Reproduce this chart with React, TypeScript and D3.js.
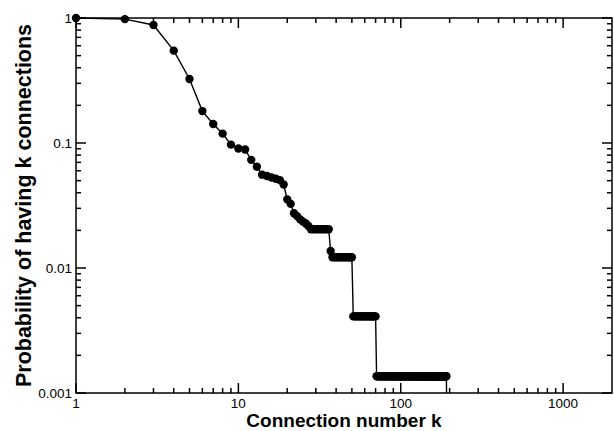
import React from "react";
import * as d3 from "d3";

// ---- data ----
const headK = [1, 2, 3, 4, 5, 6, 7, 8, 9, 10, 11, 12, 13, 14, 15, 16, 17, 18, 19, 20, 21, 22, 23, 24, 25, 26, 27, 37];
const headP = [1.0, 0.98, 0.879, 0.548, 0.325, 0.18, 0.142, 0.1188, 0.097, 0.0904, 0.0886, 0.0733, 0.0645, 0.0558, 0.0544, 0.053, 0.0518, 0.0505, 0.0465, 0.0354, 0.0326, 0.0274, 0.026, 0.0245, 0.0235, 0.0227, 0.0217, 0.0137];
// plateaus of the cumulative distribution (constant value over a run of k)
const plateauStart = [28, 38, 51, 71];
const plateauEnd = [36, 50, 70, 191];
const plateauP = [0.0204, 0.0122, 0.0041, 0.00136];
const dropK = 192; // last segment falls to zero (below the axis)

const xTickValues = [1, 10, 100, 1000];
const xTickLabels = ["1", "10", "100", "1000"];
const yTickValues = [1, 0.1, 0.01, 0.001];
const yTickLabels = ["1", "0.1", "0.01", "0.001"];

const xTitle = "Connection number k";
const yTitle = "Probability of having k connections";

const W = 614;
const H = 431;
const L = 76, R = 612, T = 18, B = 393;

export default function App() {
  const x = d3.scaleLog().domain([1, 2000]).range([L, R]);
  const y = d3.scaleLog().domain([0.001, 1]).range([B, T]);

  const pts: { k: number; p: number }[] = [];
  headK.forEach((k, i) => pts.push({ k, p: headP[i] }));
  plateauStart.forEach((s, i) => {
    for (let k = s; k <= plateauEnd[i]; k++) pts.push({ k, p: plateauP[i] });
  });
  pts.sort((a, b) => a.k - b.k);

  const linePts = [...pts, { k: dropK, p: 0 }];
  const line = d3
    .line<{ k: number; p: number }>()
    .x((d) => x(d.k))
    .y((d) => (d.p > 0 ? y(d.p) : B + 20));

  // minor ticks
  const xMinor: number[] = [];
  for (let dec = 1; dec < 2000; dec *= 10) {
    for (let m = 2; m <= 9; m++) {
      const v = dec * m;
      if (v < 2000) xMinor.push(v);
    }
  }
  const yMinor: number[] = [];
  for (let dec = 0.001; dec < 0.99; dec *= 10) {
    for (let m = 2; m <= 9; m++) yMinor.push(dec * m);
  }

  const major = 10, minor = 5;
  const ax = { stroke: "#000", strokeWidth: 1.5 };
  const font = "'Liberation Sans', Arial, Helvetica, sans-serif";

  return (
    <svg width={W} height={H} style={{ position: "absolute", left: 0, top: 0, background: "#fff" }}>
      <defs>
        <clipPath id="plotclip">
          <rect x={L - 6} y={T - 6} width={R - L + 12} height={B - T + 6} />
        </clipPath>
      </defs>
      {/* ticks */}
      <g>
        {xTickValues.map((v) => (
          <g key={"xm" + v}>
            <line x1={x(v)} x2={x(v)} y1={B} y2={B - major} {...ax} />
            <line x1={x(v)} x2={x(v)} y1={T} y2={T + major} {...ax} />
          </g>
        ))}
        {xMinor.map((v) => (
          <g key={"xn" + v}>
            <line x1={x(v)} x2={x(v)} y1={B} y2={B - minor} {...ax} />
            <line x1={x(v)} x2={x(v)} y1={T} y2={T + minor} {...ax} />
          </g>
        ))}
        {yTickValues.map((v) => (
          <g key={"ym" + v}>
            <line x1={L} x2={L + major} y1={y(v)} y2={y(v)} {...ax} />
            <line x1={R} x2={R - major} y1={y(v)} y2={y(v)} {...ax} />
          </g>
        ))}
        {yMinor.map((v) => (
          <g key={"yn" + v}>
            <line x1={L} x2={L + minor} y1={y(v)} y2={y(v)} {...ax} />
            <line x1={R} x2={R - minor} y1={y(v)} y2={y(v)} {...ax} />
          </g>
        ))}
      </g>
      {/* frame */}
      <rect x={L} y={T} width={R - L} height={B - T} fill="none" {...ax} />

      {/* data */}
      <g clipPath="url(#plotclip)">
        <path d={line(linePts) || ""} fill="none" stroke="#000" strokeWidth={1.4} />
        {pts.map((d) => (
          <circle key={"c" + d.k} cx={x(d.k)} cy={y(d.p)} r={4.2} fill="#000" />
        ))}
      </g>

      {/* tick labels */}
      <g fontFamily={font} fontSize={13.5} fill="#000">
        {xTickValues.map((v, i) => (
          <text key={"xl" + v} x={x(v)} y={408} textAnchor="middle">
            {xTickLabels[i]}
          </text>
        ))}
        {yTickValues.map((v, i) => (
          <text key={"yl" + v} x={72} y={y(v)} dy="0.36em" textAnchor="end">
            {yTickLabels[i]}
          </text>
        ))}
      </g>

      {/* axis titles */}
      <text x={(L + R) / 2} y={427} textAnchor="middle" fontFamily={font} fontWeight="bold" fontSize={19}>
        {xTitle}
      </text>
      <text
        transform={`translate(31,${(T + B) / 2}) rotate(-90)`}
        textAnchor="middle"
        fontFamily={font}
        fontWeight="bold"
        fontSize={21.5}
      >
        {yTitle}
      </text>
    </svg>
  );
}
